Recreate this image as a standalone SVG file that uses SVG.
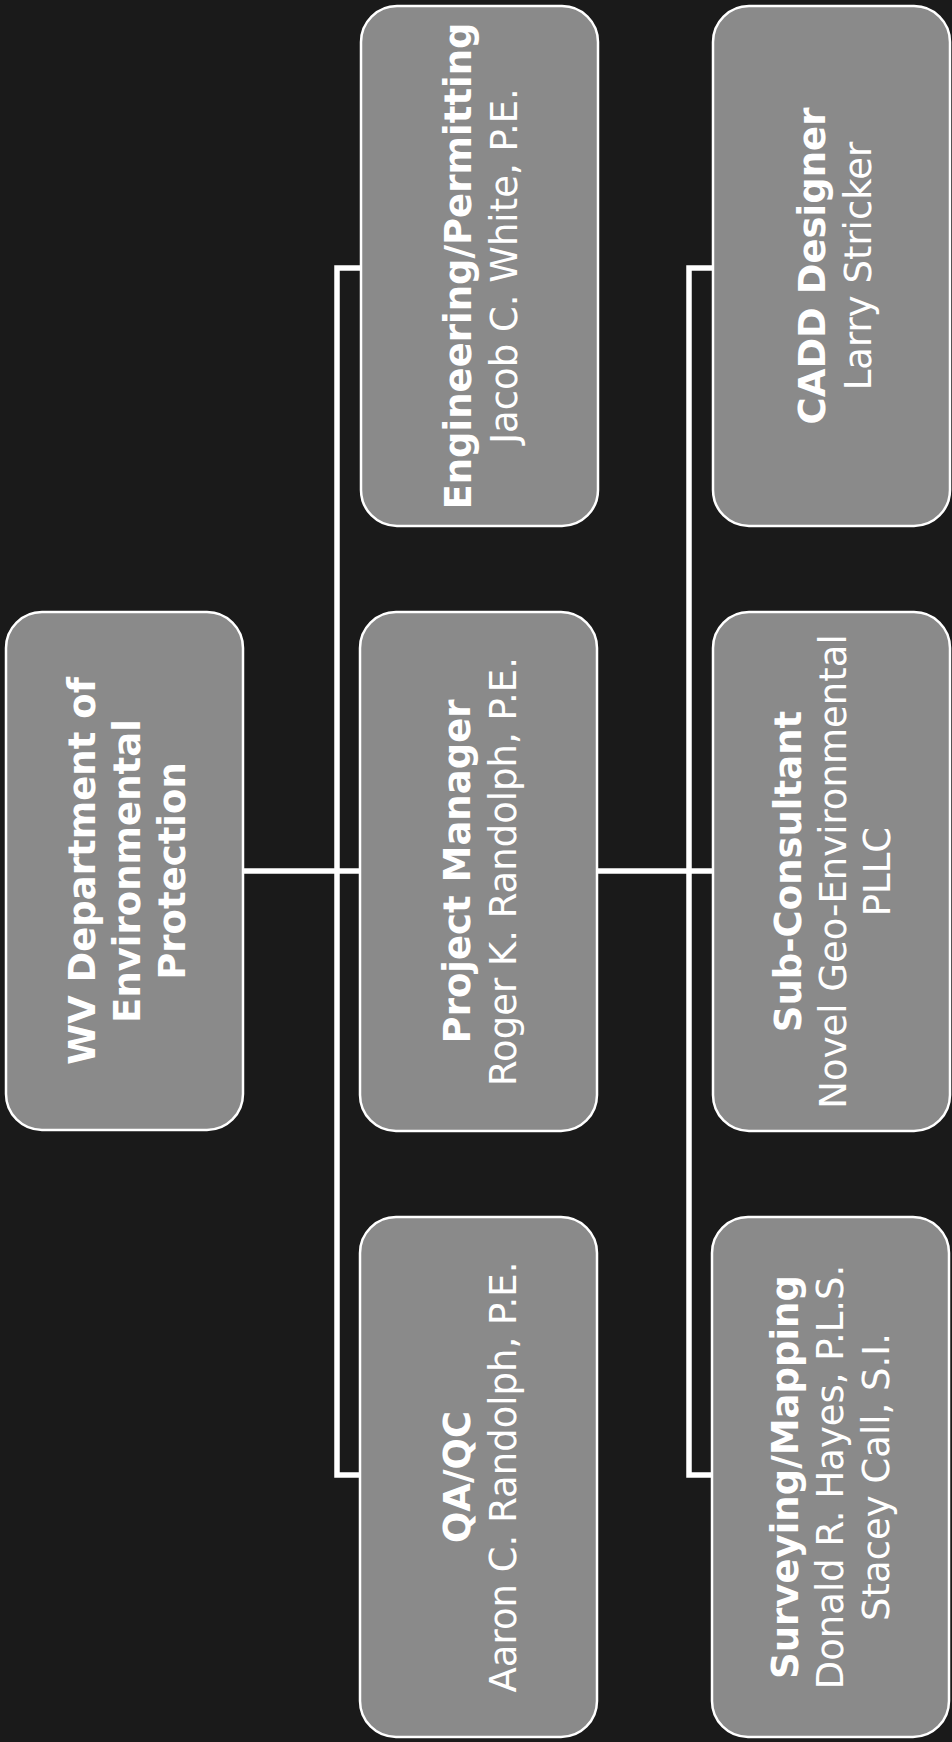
<svg xmlns="http://www.w3.org/2000/svg" width="952" height="1742" viewBox="0 0 952 1742">
<style>
.bg{fill:#1a1a1a}
.box{fill:#8a8a8a;stroke:#ffffff;stroke-width:2.5}
.t{font-family:"DejaVu Sans","Verdana",sans-serif;font-size:37px;fill:#ffffff;text-anchor:middle}
.b{font-weight:bold}
.c{fill:none;stroke:#ffffff;stroke-width:5.5;stroke-linecap:square}
</style>
<rect class="bg" x="0" y="0" width="952" height="1742"/>
<g id="connectors">
<path class="c" d="M243,871 H361"/>
<path class="c" d="M361,268 H337 V1475 H361"/>
<path class="c" d="M597,871 H713"/>
<path class="c" d="M713,268 H689 V1475 H713"/>
</g>
<g id="wv">
<rect class="box" x="6" y="612" width="237" height="518" rx="36"/>
<text class="t b" transform="translate(124.5,871) rotate(-90)"><tspan x="0" y="-30">WV Department of</tspan><tspan x="0" y="15">Environmental</tspan><tspan x="0" y="60">Protection</tspan></text>
</g>
<g id="pm">
<rect class="box" x="360" y="612" width="237" height="519" rx="36"/>
<text class="t" transform="translate(478.5,871.5) rotate(-90)"><tspan class="b" x="0" y="-9">Project Manager</tspan><tspan x="0" y="37">Roger K. Randolph, P.E.</tspan></text>
</g>
<g id="eng">
<rect class="box" x="361" y="6" width="237" height="520" rx="36"/>
<text class="t" transform="translate(479.5,266) rotate(-90)"><tspan class="b" x="0" y="-9">Engineering/Permitting</tspan><tspan x="0" y="37">Jacob C. White, P.E.</tspan></text>
</g>
<g id="qa">
<rect class="box" x="360" y="1217" width="237" height="520" rx="36"/>
<text class="t" transform="translate(478.5,1477) rotate(-90)"><tspan class="b" x="0" y="-9">QA/QC</tspan><tspan x="0" y="37">Aaron C. Randolph, P.E.</tspan></text>
</g>
<g id="cadd">
<rect class="box" x="713" y="6" width="237" height="520" rx="36"/>
<text class="t" transform="translate(831.5,266) rotate(-90)"><tspan class="b" x="0" y="-7">CADD Designer</tspan><tspan x="0" y="39">Larry Stricker</tspan></text>
</g>
<g id="sub">
<rect class="box" x="713" y="612" width="237" height="519" rx="36"/>
<text class="t" transform="translate(831.5,871.5) rotate(-90)"><tspan class="b" x="0" y="-31">Sub-Consultant</tspan><tspan x="0" y="14">Novel Geo-Environmental</tspan><tspan x="0" y="58">PLLC</tspan></text>
</g>
<g id="surv">
<rect class="box" x="712" y="1217" width="237" height="520" rx="36"/>
<text class="t" transform="translate(830.5,1477) rotate(-90)"><tspan class="b" x="0" y="-33">Surveying/Mapping</tspan><tspan x="0" y="12">Donald R. Hayes, P.L.S.</tspan><tspan x="0" y="58">Stacey Call, S.I.</tspan></text>
</g>
</svg>
